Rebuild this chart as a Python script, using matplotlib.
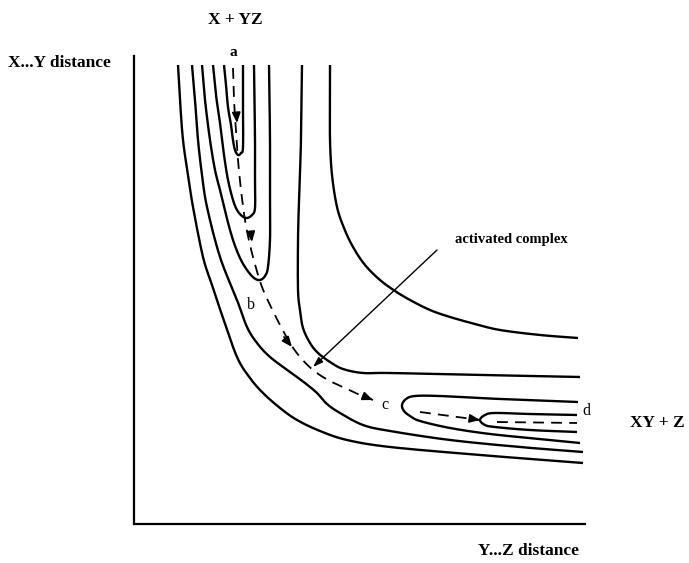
import numpy as np
import matplotlib
matplotlib.use("Agg")
import matplotlib.pyplot as plt

# ---- contour lines of the potential-energy surface (arbitrary distance units) ----
contour_A = [(44,459),(46,424),(49,384),(54,349),(59,317),(69,267),(78,239),(88,209),
             (103,167),(116,146),(129,131),(146,116),(163,104),(186,93),(213,84),
             (256,77),(346,69),(449,61)]
contour_B = [(58,459),(61,424),(64,384),(68,349),(73,317),(86,267),(103,224),(113,197),
             (123,181),(136,167),(156,152),(171,141),(183,131),(193,120),(206,111),
             (229,99),(256,93),(316,84),(386,77),(449,72)]
contour_U3 = [(68,459),(71,424),(76,384),(81,354),(86,334),(92,309),(99,284),(106,266),
              (113,254),(120,246),(126,244),(131,248),(134,257),(136,284),(136,317),
              (136,384),(135,459)]
contour_U2 = [(79,459),(82,429),(86,401),(90,369),(94,344),(99,324),(103,314),(108,308),
              (113,306),(118,309),(121,316),(121,344),(121,384),(120,459)]
contour_U1 = [(90,459),(92,439),(94,417),(97,399),(99,384),(101,374),(104,369),(107,371),
              (109,377),(109,417),(109,459)]
contour_C = [(168,459),(167,384),(165,324),(164,284),(164,234),(166,214),(169,196),
             (176,181),(184,171),(196,162),(209,155),(229,151),(256,151),(349,149),(446,147)]
contour_D = [(196,459),(196,424),(196,384),(198,349),(203,317),(210,296),(219,277),
             (231,259),(246,244),(261,233),(276,224),(296,214),(316,207),(341,200),
             (366,194),(406,189),(444,186)]
contour_cU = [(444,122),(366,125),(306,128),(281,128),(272,125),(268,119),(270,113),
              (276,108),(286,103),(316,96),(356,90),(406,85),(446,81)]
contour_dU = [(443,109),(396,110),(361,111),(351,109),(346,104),(351,99),(361,97),
              (396,94),(443,92)]
contours = [contour_A, contour_B, contour_U3, contour_U2, contour_U1,
            contour_C, contour_D, contour_cU, contour_dU]

# ---- reaction path (dashed) ----
path_1 = [(99,456),(100,424),(102,394),(104,364),(107,334),(111,304),(116,279),(122,256),
          (128,237),(136,219),(146,199),(156,181),(166,167),(179,154),(194,144),
          (211,136),(226,129),(239,124)]
path_2 = [(286,112),(316,108),(346,104)]
path_3 = [(363,102),(443,101)]
# arrowheads: (tail, tip)
path_arrows = [((102.3,411),(103,401)), ((116.8,292),(118,282)), ((150,187),(158,177)),
               ((229,128),(239,124)), ((336,105.5),(346,104))]

# activated complex pointer
pointer_start = (303, 274)
pointer_tip = (179, 157)

# ---- texts ----
labels = [
    ("X...Y distance", (-75, 461), 12.5, "bold", "center"),
    ("X + YZ", (101, 504), 12.5, "bold", "center"),
    ("a", (99, 472), 11, "bold", "center"),
    ("b", (117, 219), 11.5, "normal", "center"),
    ("c", (251, 119), 11.5, "normal", "center"),
    ("d", (452, 113), 11.5, "normal", "center"),
    ("activated complex", (321, 284), 10.5, "bold", "left"),
    ("XY + Z", (523, 101), 12.5, "bold", "center"),
    ("Y...Z distance", (394, -27), 12.5, "bold", "center"),
]


def smooth(pts, n=12):
    p = np.asarray(pts, dtype=float)
    p = np.vstack([2 * p[0] - p[1], p, 2 * p[-1] - p[-2]])
    out = []
    t = np.linspace(0, 1, n, endpoint=False)[:, None]
    for i in range(1, len(p) - 2):
        p0, p1, p2, p3 = p[i - 1], p[i], p[i + 1], p[i + 2]
        seg = 0.5 * ((2 * p1) + (-p0 + p2) * t + (2 * p0 - 5 * p1 + 4 * p2 - p3) * t ** 2
                     + (-p0 + 3 * p1 - 3 * p2 + p3) * t ** 3)
        out.append(seg)
    out.append(p[-2][None, :])
    return np.vstack(out)


W, H = 689, 563
fig = plt.figure(figsize=(W / 100, H / 100), dpi=100)
ax = fig.add_axes([134 / W, 39 / H, 451 / W, 468 / H])
ax.set_xlim(0, 451)
ax.set_ylim(0, 468)
for s in ["top", "right"]:
    ax.spines[s].set_visible(False)
for s in ["left", "bottom"]:
    ax.spines[s].set_linewidth(1.6)
    ax.spines[s].set_color("black")
ax.set_xticks([])
ax.set_yticks([])

for c in contours:
    xy = smooth(c)
    ax.plot(xy[:, 0], xy[:, 1], color="black", lw=1.7, solid_capstyle="butt", clip_on=False)

for pth in (path_1, path_2, path_3):
    xy = smooth(pth)
    ax.plot(xy[:, 0], xy[:, 1], color="black", lw=1.3, dashes=(6, 4), clip_on=False)

for tail, tip in path_arrows:
    ax.annotate("", xy=tip, xytext=tail,
                arrowprops=dict(arrowstyle="-|>,head_length=0.6,head_width=0.25",
                                color="black", lw=1.3, shrinkA=0, shrinkB=0))

ax.annotate("", xy=pointer_tip, xytext=pointer_start,
            arrowprops=dict(arrowstyle="-|>,head_length=0.6,head_width=0.2",
                            color="black", lw=1.0, shrinkA=0, shrinkB=0))

for txt, (x, y), fs, fw, ha in labels:
    ax.text(x, y, txt, fontsize=fs, fontweight=fw, ha=ha, va="center",
            family=["Liberation Serif", "DejaVu Serif"], clip_on=False)

fig.savefig("out.png", dpi=100)
